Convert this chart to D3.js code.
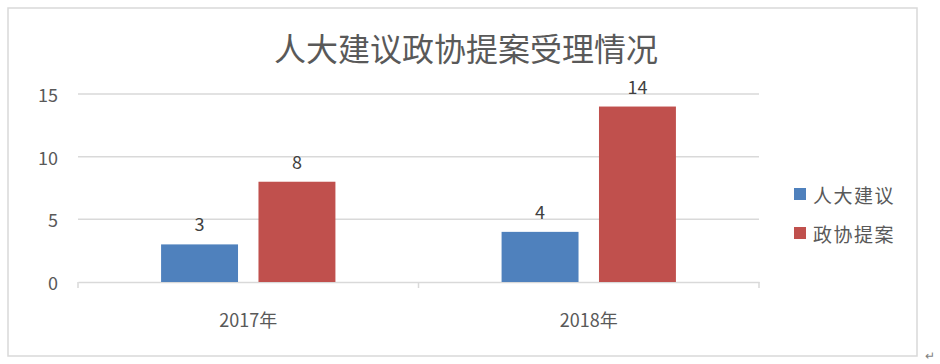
<!DOCTYPE html>
<html>
<head>
<meta charset="utf-8">
<script src="https://cdn.jsdelivr.net/npm/d3@7"></script>
<style>
  body { margin: 0; background: #fff; }
  svg { display: block; font-family: "Noto Sans CJK SC", "Noto Sans", sans-serif; }
</style>
</head>
<body>
<div id="chart"></div>
<script>
const categories = ['2017年', '2018年']
const seriesNames = ['人大建议', '政协提案']
const renda = [3, 4]
const zhengxie = [8, 14]
const yTicks = [0, 5, 10, 15]
const colors = ['#4F81BD', '#C0504D']

const width = 940
const height = 364

const svg = d3.select('#chart').append('svg')
	.attr('width', width)
	.attr('height', height)

// outer frame
svg.append('rect')
	.attr('x', 8).attr('y', 8)
	.attr('width', 909).attr('height', 348)
	.attr('fill', '#fff')
	.attr('stroke', '#d9d9d9')
	.attr('stroke-width', 1.5)

svg.append('text')
	.attr('x', 466).attr('y', 47)
	.attr('text-anchor', 'middle')
	.attr('dominant-baseline', 'central')
	.attr('font-size', 32)
	.attr('fill', '#595959')
	.text('人大建议政协提案受理情况')

const plot = { left: 78, right: 759, top: 94, bottom: 282 }

const y = d3.scaleLinear()
	.domain([0, 15])
	.range([plot.bottom, plot.top])

const x0 = d3.scaleBand()
	.domain(categories)
	.range([plot.left, plot.right])

const bw0 = x0.bandwidth()
const x1 = d3.scaleBand()
	.domain(seriesNames)
	.range([bw0 * 0.244, bw0 * 0.756])
	.paddingInner(0.21)

// gridlines
svg.append('g').selectAll('line')
	.data(yTicks.filter(d => d > 0))
	.enter()
	.append('line')
	.attr('x1', plot.left).attr('x2', plot.right)
	.attr('y1', d => y(d)).attr('y2', d => y(d))
	.attr('stroke', '#d9d9d9')
	.attr('stroke-width', 1.5)

// y labels
svg.append('g').selectAll('text')
	.data(yTicks)
	.enter()
	.append('text')
	.attr('x', 58)
	.attr('y', d => y(d))
	.attr('text-anchor', 'end')
	.attr('dominant-baseline', 'central')
	.attr('font-size', 18)
	.attr('fill', '#595959')
	.text(d => d)

// x axis
const xAxis = d3.axisBottom(x0)
	.tickSize(0)
	.tickSizeOuter(0)
	.tickFormat('')
const gx = svg.append('g')
	.attr('transform', `translate(0,${plot.bottom})`)
	.call(xAxis)
gx.select('.domain').attr('stroke', '#d9d9d9').attr('stroke-width', 1.5)
gx.selectAll('.tick').remove()

const boundaries = [plot.left].concat(categories.map(c => x0(c) + bw0))
svg.append('g').selectAll('line')
	.data(boundaries)
	.enter()
	.append('line')
	.attr('x1', d => d).attr('x2', d => d)
	.attr('y1', plot.bottom).attr('y2', plot.bottom + 6)
	.attr('stroke', '#d9d9d9')
	.attr('stroke-width', 1.5)

svg.append('g').selectAll('text')
	.data(categories)
	.enter()
	.append('text')
	.attr('x', d => x0(d) + bw0 / 2)
	.attr('y', 319)
	.attr('text-anchor', 'middle')
	.attr('dominant-baseline', 'central')
	.attr('font-size', 18)
	.attr('fill', '#595959')
	.text(d => d)

// bars
const rows = categories.map((c, i) => ({
	category: c,
	values: [
		{ name: seriesNames[0], value: renda[i], color: colors[0] },
		{ name: seriesNames[1], value: zhengxie[i], color: colors[1] }
	]
}))

const groups = svg.append('g').selectAll('g')
	.data(rows)
	.enter()
	.append('g')
	.attr('transform', d => `translate(${x0(d.category)},0)`)

groups.selectAll('rect')
	.data(d => d.values)
	.enter()
	.append('rect')
	.attr('x', d => x1(d.name))
	.attr('y', d => y(d.value))
	.attr('width', x1.bandwidth())
	.attr('height', d => plot.bottom - y(d.value))
	.attr('fill', d => d.color)

groups.selectAll('text')
	.data(d => d.values)
	.enter()
	.append('text')
	.attr('x', d => x1(d.name) + x1.bandwidth() / 2)
	.attr('y', d => y(d.value) - 21)
	.attr('text-anchor', 'middle')
	.attr('dominant-baseline', 'central')
	.attr('font-size', 18)
	.attr('fill', '#404040')
	.text(d => d.value)

// legend
const legend = svg.append('g').selectAll('g')
	.data(seriesNames)
	.enter()
	.append('g')
	.attr('transform', (d, i) => `translate(794,${194 + i * 39})`)

legend.append('rect')
	.attr('x', 0).attr('y', -6)
	.attr('width', 12).attr('height', 12)
	.attr('fill', (d, i) => colors[i])

legend.append('text')
	.attr('x', 19).attr('y', 0)
	.attr('dominant-baseline', 'central')
	.attr('font-size', 19)
	.attr('letter-spacing', 1.5)
	.attr('fill', '#595959')
	.text(d => d)

svg.append('text')
	.attr('x', 925).attr('y', 360)
	.attr('font-size', 12)
	.attr('fill', '#7f7f7f')
	.text('↵')
</script>
</body>
</html>
